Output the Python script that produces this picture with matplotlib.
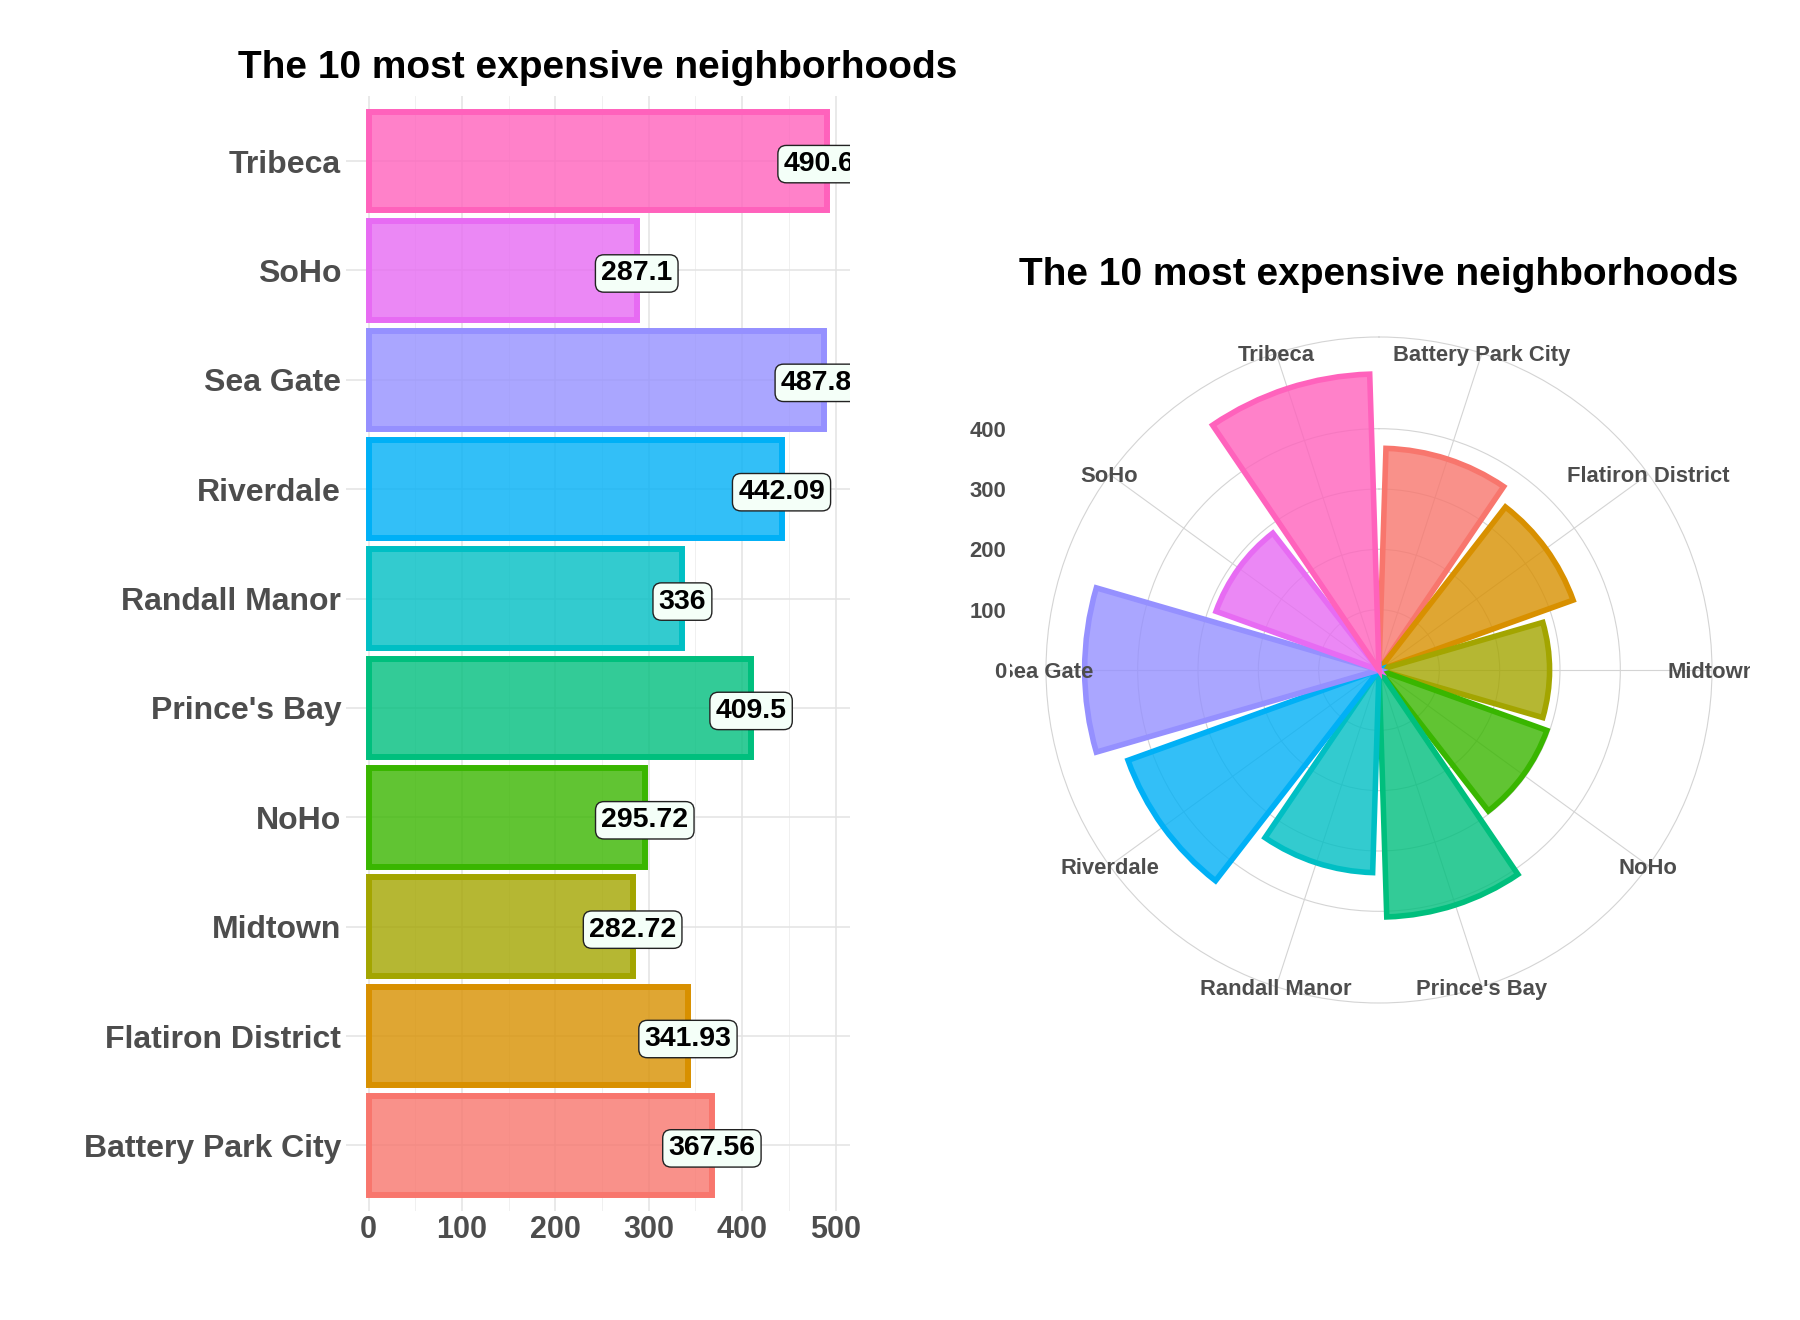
import numpy as np
import matplotlib
matplotlib.use("Agg")
import matplotlib.pyplot as plt
from matplotlib.colors import to_rgba
from matplotlib.transforms import Bbox, TransformedBbox

plt.rcParams['font.family'] = ['Liberation Sans', 'DejaVu Sans']

# data: mean price per neighbourhood (alphabetical, as ggplot orders the factor)
neighbourhoods = ["Battery Park City", "Flatiron District", "Midtown", "NoHo",
                  "Prince's Bay", "Randall Manor", "Riverdale", "Sea Gate",
                  "SoHo", "Tribeca"]
prices = [367.56, 341.93, 282.72, 295.72, 409.5, 336.0, 442.09, 487.86, 287.1, 490.64]
palette = ["#F8766D", "#D89000", "#A3A500", "#39B600", "#00BF7D",
           "#00BFC4", "#00B0F6", "#9590FF", "#E76BF3", "#FF62BC"]
x_ticks = [0, 100, 200, 300, 400, 500]
r_ticks = [0, 100, 200, 300, 400]
title = "The 10 most expensive neighborhoods"

W, H = 1800, 1320
fig = plt.figure(figsize=(W / 100, H / 100), dpi=100)
grey_txt = "#4D4D4D"
fills = [to_rgba(c, 0.8) for c in palette]
n = len(neighbourhoods)
vmax = max(prices)

# ---- left: horizontal bar chart ----
ax = fig.add_axes([345.6 / W, 1 - 1211 / H, 504.2 / W, 1115.5 / H])
ypos = np.arange(1, n + 1)
ax.barh(ypos, prices, height=0.9, color=fills, edgecolor=palette, linewidth=4.3, zorder=2)
for y, v in zip(ypos, prices):
    ax.text(v, y, f"{v:g}", ha="center", va="center_baseline", fontsize=20.5,
            fontweight="bold", color="black", zorder=3, clip_on=True,
            bbox=dict(boxstyle="round,pad=0.2,rounding_size=0.3", fc="#F4FFF8",
                      ec="#222222", lw=1.0))
ax.set_xlim(-0.05 * vmax, vmax * 1.05)
ax.set_ylim(0.4, n + 0.6)
ax.set_yticks(ypos)
ax.set_yticklabels(neighbourhoods)
ax.set_xticks(x_ticks)
ax.set_xticks(np.arange(50, 550, 100), minor=True)
ax.tick_params(axis="both", which="both", length=0)
ax.tick_params(axis="y", pad=3.2, labelsize=23, labelcolor=grey_txt)
ax.tick_params(axis="x", pad=3.0, labelsize=22, labelcolor=grey_txt)
for lab in ax.get_xticklabels() + ax.get_yticklabels():
    lab.set_fontweight("bold")
ax.grid(which="major", color="#E3E3E3", lw=1.1)
ax.grid(which="minor", axis="x", color="#EEEEEE", lw=0.6)
ax.set_axisbelow(True)
for s in ax.spines.values():
    s.set_visible(False)
ax.set_title(title, fontsize=28, fontweight="bold", pad=12.6)

# ---- right: polar version ----
cx, cy, rad = 1379, 670, 333
axp = fig.add_axes([(cx - rad) / W, 1 - (cy + rad) / H, 2 * rad / W, 2 * rad / H],
                   projection="polar")
axp.set_theta_zero_location("N")
axp.set_theta_direction(-1)
theta = (np.arange(n) + 0.5) * 2 * np.pi / n
axp.bar(theta, prices, width=0.9 * 2 * np.pi / n, color=fills, edgecolor=palette,
        linewidth=4, zorder=2)
rmax = vmax / 0.4 * 0.45
axp.set_ylim(0, rmax)
axp.set_xticks(theta)
axp.set_xticklabels([])
axp.set_yticks(r_ticks[1:])
axp.set_yticklabels([])
axp.grid(color="#D4D4D4", lw=0.8)
axp.spines["polar"].set_color("#D4D4D4")
axp.spines["polar"].set_linewidth(0.8)
axp.set_axisbelow(True)
axp.tick_params(length=0)

# the ggplot panel clips its text to a square box
panel = Bbox.from_extents((cx - 369) / W, 1 - (cy + 370) / H, (cx + 371) / W, 1 - (cy - 370) / H)
clip = TransformedBbox(panel, fig.transFigure)
for t, name in zip(theta, neighbourhoods):
    txt = fig.text(t, rmax, name, transform=axp.transData, ha="center",
                   va="center_baseline", fontsize=15.8, fontweight="bold", color=grey_txt)
    txt.set_clip_box(clip)
    txt.set_clip_on(True)

inv = fig.transFigure.inverted()
for v in r_ticks:
    yf = inv.transform(axp.transData.transform((0, v)))[1]
    fig.text(1006 / W, yf, str(v), ha="right", va="center_baseline", fontsize=15.8,
             fontweight="bold", color=grey_txt)

fig.text(cx / W, 1 - 285 / H, title, ha="center", va="baseline", fontsize=28,
         fontweight="bold")

fig.savefig("out.png", dpi=100, facecolor="white")
